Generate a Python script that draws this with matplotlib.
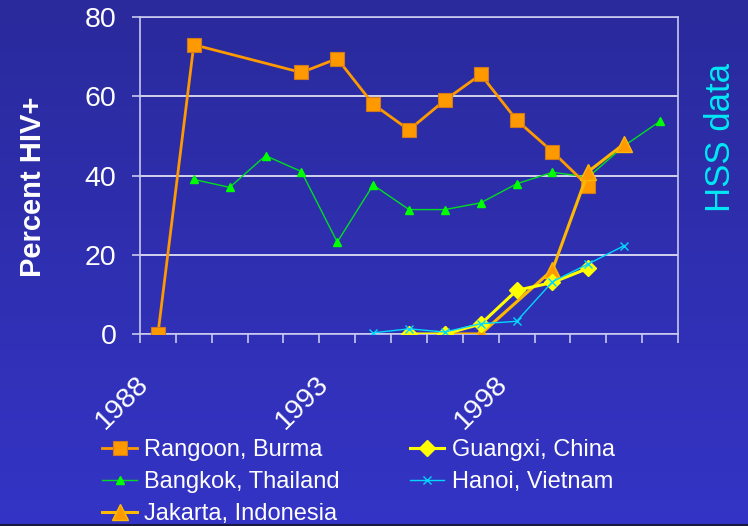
import numpy as np
import matplotlib
matplotlib.use("Agg")
import matplotlib.pyplot as plt
import matplotlib.transforms as mtransforms
from matplotlib.colors import LinearSegmentedColormap

plt.rcParams['font.family'] = ['Liberation Sans', 'DejaVu Sans']

years = list(range(1988, 2003))
nan = np.nan

rangoon = [0, 73, nan, nan, 66, 69.5, 58, 51.5, 59, 65.5, 54, 46, 37.3, nan, nan]
bangkok = [nan, 39, 37, 45, 41, 23.2, 37.6, 31.4, 31.4, 33.1, 37.9, 40.8, 39.6, 47.5, 53.7]
jakarta = [nan, nan, nan, nan, nan, nan, nan, nan, 0, 0, nan, 16.2, 41, 48, nan]
guangxi = [nan, nan, nan, nan, nan, nan, nan, 0, 0, 2.5, 11, 13, 16.6, nan, nan]
hanoi = [nan, nan, nan, nan, nan, nan, 0.3, 1.3, 0.5, 2.6, 3.2, 13.2, 17.7, 22.3, nan]

year_labels = ["1988", "1993", "1998"]

fig = plt.figure(figsize=(7.48, 5.26), dpi=100)

# blue gradient backdrop
bg = fig.add_axes([0, 0, 1, 1], zorder=-10)
cmap = LinearSegmentedColormap.from_list("bg", ["#2A2A9C", "#3434C6"])
bg.imshow(np.linspace(0, 1, 256).reshape(-1, 1), aspect="auto", cmap=cmap,
          extent=[0, 1, 0, 1])
bg.axis("off")
bg.plot([0, 1], [0.002, 0.002], color="#1A1A40", lw=1.5)
bg.set_xlim(0, 1)
bg.set_ylim(0, 1)

ax = fig.add_axes([140 / 748, 1 - 334 / 526, 538 / 748, 317 / 526])
ax.set_facecolor("none")

x = np.arange(len(years))


def series(vals, **kw):
    v = np.array(vals, dtype=float)
    m = ~np.isnan(v)
    return ax.plot(x[m], v[m], **kw)[0]


h_rangoon = series(rangoon, color="#FF9900", lw=2.0, marker="s", ms=10,
                   mfc="#FF9900", mec="#D07A20", mew=0.8, zorder=4,
                   label="Rangoon, Burma")
h_bangkok = series(bangkok, color="#00DD22", lw=1.0, marker="^", ms=6,
                   mfc="#00FF00", mec="#00FF00", zorder=3,
                   label="Bangkok, Thailand")
h_jakarta = series(jakarta, color="#FFB800", lw=2.2, marker="^", ms=12,
                   mfc="#FF9900", mec="#FFB800", mew=1, zorder=5,
                   label="Jakarta, Indonesia")
h_guangxi = series(guangxi, color="#FFFF00", lw=2.2, marker="D", ms=8,
                   mfc="#FFFF00", mec="#FFFF00", zorder=6,
                   label="Guangxi, China")
h_hanoi = series(hanoi, color="#00D8FF", lw=1.0, marker="x", ms=6, mew=1,
                 zorder=7, label="Hanoi, Vietnam")

ax.set_xlim(-0.5, len(years) - 0.5)
ax.set_ylim(0, 80)
ax.set_yticks([0, 20, 40, 60, 80])
ax.grid(axis="y", color="white", lw=1.1)
ax.set_axisbelow(True)

for s in ax.spines.values():
    s.set_color("#C8C8F0")
    s.set_linewidth(1.2)

ax.tick_params(axis="y", colors="#C8C8F0", length=6, width=1.2, pad=11,
               labelcolor="white", labelsize=20.5)
ax.set_xticks(np.arange(-0.5, len(years), 1.0), minor=True)
ax.set_xticks([years.index(int(t)) for t in year_labels])
ax.set_xticklabels(year_labels, rotation=45, ha="right", va="center",
                   rotation_mode="anchor")
ax.tick_params(axis="x", which="major", length=0, pad=33, labelcolor="white",
               labelsize=20.5)
ax.tick_params(axis="x", which="minor", length=6.5, width=1.2,
               colors="#C8C8F0", direction="out")
shift = mtransforms.ScaledTranslation(-13 / 100, 0, fig.dpi_scale_trans)
for lbl in ax.get_xticklabels():
    lbl.set_transform(lbl.get_transform() + shift)

fig.text(33 / 748, 1 - 187 / 526, "Percent HIV+", rotation=90, color="white",
         fontsize=21, fontweight="bold", ha="center", va="center")
fig.text(721 / 748, 1 - 137 / 526, "HSS data", rotation=90, color="#00E8F4",
         fontsize=25, ha="center", va="center")

handles = [h_rangoon, h_bangkok, h_jakarta, h_guangxi, h_hanoi]
leg = fig.legend(handles=handles, labels=[h.get_label() for h in handles],
                 ncol=2, loc="upper left", bbox_to_anchor=(93 / 748, 1 - 430 / 526),
                 frameon=False, fontsize=17, labelcolor="white",
                 handlelength=1.45, handletextpad=0.3, columnspacing=3.0,
                 labelspacing=0.42, borderaxespad=0)

fig.savefig("out.png", dpi=100)
